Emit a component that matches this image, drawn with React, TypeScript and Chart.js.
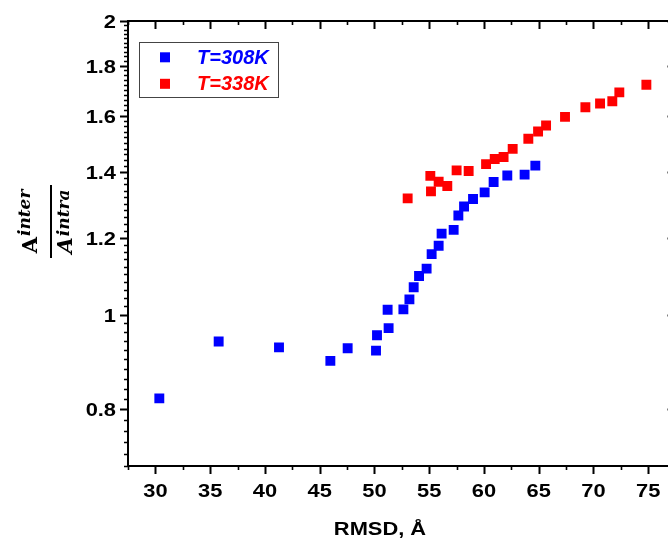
import React, { useEffect, useRef } from "react";
import { Chart, registerables } from "chart.js";

Chart.register(...registerables);

// ---- data ----
const xs308 = [30.36, 35.78, 41.29, 45.98, 47.56, 50.15, 50.24, 51.3, 51.21, 52.65, 53.2, 53.59, 54.08, 54.77, 55.23, 55.87, 56.14, 57.24, 57.67, 58.19, 59.01, 60.07, 60.89, 62.14, 63.72, 64.7];
const ys308 = [0.821, 0.939, 0.926, 0.897, 0.924, 0.919, 0.953, 0.969, 1.012, 1.013, 1.037, 1.067, 1.096, 1.115, 1.154, 1.177, 1.211, 1.222, 1.264, 1.291, 1.314, 1.335, 1.368, 1.389, 1.392, 1.422];
const xs338 = [53.04, 55.11, 55.17, 55.87, 56.66, 57.51, 58.61, 60.2, 60.99, 61.8, 62.63, 64.06, 64.95, 65.68, 67.41, 69.27, 70.61, 71.73, 72.37, 74.84];
const ys338 = [1.316, 1.388, 1.338, 1.369, 1.355, 1.406, 1.404, 1.427, 1.444, 1.451, 1.479, 1.515, 1.541, 1.563, 1.595, 1.632, 1.646, 1.655, 1.69, 1.721];

const seriesLabels = ["T=308K", "T=338K"];
const seriesColors = ["#0000ff", "#ff0000"];
const xTickValues = [30, 35, 40, 45, 50, 55, 60, 65, 70, 75];
const yTickValues = [0.8, 1, 1.2, 1.4, 1.6, 1.8, 2];
const xTitle = "RMSD, Å";
const yNumBase = "A";
const yNumSup = "inter";
const yDenBase = "A";
const yDenSup = "intra";

const X_MIN = 27.5, X_MAX = 77.5, Y_MIN = 0.7, Y_MAX = 2;
const X_MINOR_STEP = 2.5, Y_MINOR_STEP = 0.02;

const W = 690, H = 541;
const TOP = 21, BOTTOM = 466, LEFT = 128, RIGHT_PAD = 14.5;
const FONT = "Arial, 'Liberation Sans', sans-serif";
const LABEL_FONT = `bold 19px ${FONT}`;
const SX = 1.15; // horizontal stretch of axis text

const fmt = (v: number) => String(Math.round(v * 10) / 10);

const framePlugin = {
  id: "frame",
  afterDraw(chart: any) {
    const { ctx, chartArea } = chart;
    const xs = chart.scales.x, ys = chart.scales.y;
    const L = chartArea.left, R = chartArea.right, T = chartArea.top, B = chartArea.bottom;
    ctx.save();
    ctx.strokeStyle = "#000";
    ctx.fillStyle = "#000";
    // axes lines
    ctx.lineWidth = 2;
    ctx.beginPath();
    ctx.moveTo(L, T - 1); ctx.lineTo(L, B + 1);
    ctx.moveTo(L - 1, B); ctx.lineTo(R + 1, B);
    ctx.moveTo(L - 1, T); ctx.lineTo(R + 1, T);
    ctx.moveTo(R, T - 1); ctx.lineTo(R, B + 1);
    ctx.stroke();
    // x ticks
    const nx = Math.round((X_MAX - X_MIN) / X_MINOR_STEP);
    for (let k = 0; k <= nx; k++) {
      const v = X_MIN + k * X_MINOR_STEP;
      const major = xTickValues.some((t) => Math.abs(t - v) < 1e-6);
      const len = major ? 8 : 4;
      const px = Math.round(xs.getPixelForValue(v)) + 0.5;
      ctx.lineWidth = major ? 2 : 1.6;
      ctx.beginPath();
      ctx.moveTo(px, B); ctx.lineTo(px, B + len);
      ctx.moveTo(px, T); ctx.lineTo(px, T + len);
      ctx.stroke();
    }
    // y ticks
    const ny = Math.round((Y_MAX - Y_MIN) / Y_MINOR_STEP);
    for (let k = 0; k <= ny; k++) {
      const v = Y_MIN + k * Y_MINOR_STEP;
      const major = yTickValues.some((t) => Math.abs(t - v) < 1e-6);
      const len = major ? 8 : 4;
      const py = Math.round(ys.getPixelForValue(v)) + 0.5;
      ctx.lineWidth = major ? 2 : 1.6;
      ctx.beginPath();
      ctx.moveTo(L, py); ctx.lineTo(L - len, py);
      ctx.moveTo(R, py); ctx.lineTo(R - len, py);
      ctx.stroke();
    }

    // tick labels and x title (stretched text)
    const drawText = (text: string, x: number, y: number, align: CanvasTextAlign) => {
      ctx.save();
      ctx.translate(x, y);
      ctx.scale(SX, 1);
      ctx.textAlign = align;
      ctx.textBaseline = "alphabetic";
      ctx.fillText(text, 0, 0);
      ctx.restore();
    };
    ctx.font = LABEL_FONT;
    xTickValues.forEach((v) => drawText(fmt(v), xs.getPixelForValue(v), B + 31, "center"));
    yTickValues.forEach((v) => drawText(fmt(v), L - 12, ys.getPixelForValue(v) + 7, "right"));
    drawText(xTitle, 380, 535, "center");

    // y-axis title (fraction), rotated
    const cy = 221.5;
    ctx.save();
    ctx.translate(0, cy);
    ctx.rotate(-Math.PI / 2);
    ctx.textBaseline = "alphabetic";
    ctx.textAlign = "left";
    const supFont = "italic bold 17px 'DejaVu Serif', serif";
    const drawPair = (base: string, sup: string, baseFont: string, baseV: number, supV: number) => {
      ctx.font = baseFont;
      const wA = ctx.measureText(base).width;
      ctx.font = supFont;
      const wS = ctx.measureText(sup).width;
      const u0 = -(wA + wS + 1) / 2;
      ctx.font = baseFont;
      ctx.fillText(base, u0, baseV);
      ctx.font = supFont;
      ctx.fillText(sup, u0 + wA + 1, supV);
    };
    drawPair(yNumBase, yNumSup, "bold 21px 'DejaVu Serif', serif", 37, 30);
    drawPair(yDenBase, yDenSup, "italic bold 21px 'DejaVu Serif', serif", 72, 69);
    ctx.restore();
    ctx.fillRect(50, 185, 2, 73);

    // legend
    ctx.lineWidth = 1;
    ctx.strokeStyle = "#444";
    ctx.strokeRect(139.5, 42.5, 139, 55);
    chart.data.datasets.forEach((ds: any, i: number) => {
      const yc = 57.3 + i * 26.5;
      ctx.fillStyle = ds.backgroundColor;
      ctx.fillRect(160, yc - 5, 10, 10);
      ctx.font = `italic bold 20px ${FONT}`;
      ctx.textBaseline = "alphabetic";
      ctx.textAlign = "left";
      ctx.fillText(ds.label, 197, yc + 6.3);
    });
    ctx.restore();
  },
};

export default function App() {
  const ref = useRef<HTMLCanvasElement | null>(null);
  useEffect(() => {
    document.body.style.margin = "0";
    document.body.style.overflow = "hidden";
    const canvas = ref.current;
    if (!canvas) return;
    const mk = (xs: number[], ys: number[]) => xs.map((x, i) => ({ x, y: ys[i] }));
    const chart = new Chart(canvas, {
      type: "scatter",
      data: {
        datasets: [
          {
            label: seriesLabels[0],
            data: mk(xs308, ys308),
            backgroundColor: seriesColors[0],
            borderColor: seriesColors[0],
            pointStyle: "rect",
            pointRadius: 7,
            pointBorderWidth: 0,
          },
          {
            label: seriesLabels[1],
            data: mk(xs338, ys338),
            backgroundColor: seriesColors[1],
            borderColor: seriesColors[1],
            pointStyle: "rect",
            pointRadius: 7,
            pointBorderWidth: 0,
          },
        ],
      },
      options: {
        animation: false,
        responsive: false,
        devicePixelRatio: 1,
        events: [],
        layout: { padding: { left: 0, top: TOP, right: RIGHT_PAD, bottom: 0 } },
        plugins: { legend: { display: false }, tooltip: { enabled: false } },
        scales: {
          x: {
            type: "linear",
            min: X_MIN,
            max: X_MAX,
            afterBuildTicks: (s: any) => {
              s.ticks = xTickValues.map((v) => ({ value: v }));
            },
            afterFit: (s: any) => {
              s.height = H - BOTTOM;
            },
            grid: { display: false },
            border: { display: false },
            ticks: { display: false },
            title: { display: false, text: xTitle },
          },
          y: {
            type: "logarithmic",
            min: Y_MIN,
            max: Y_MAX,
            afterBuildTicks: (s: any) => {
              s.ticks = yTickValues.map((v) => ({ value: v }));
            },
            afterFit: (s: any) => {
              s.width = LEFT;
            },
            grid: { display: false },
            border: { display: false },
            ticks: { display: false },
          },
        },
      },
      plugins: [framePlugin],
    } as any);
    return () => chart.destroy();
  }, []);
  return (
    <div style={{ width: 668, height: 541, overflow: "hidden", background: "#fff" }}>
      <canvas ref={ref} width={W} height={H} style={{ display: "block", width: W, height: H }} />
    </div>
  );
}
